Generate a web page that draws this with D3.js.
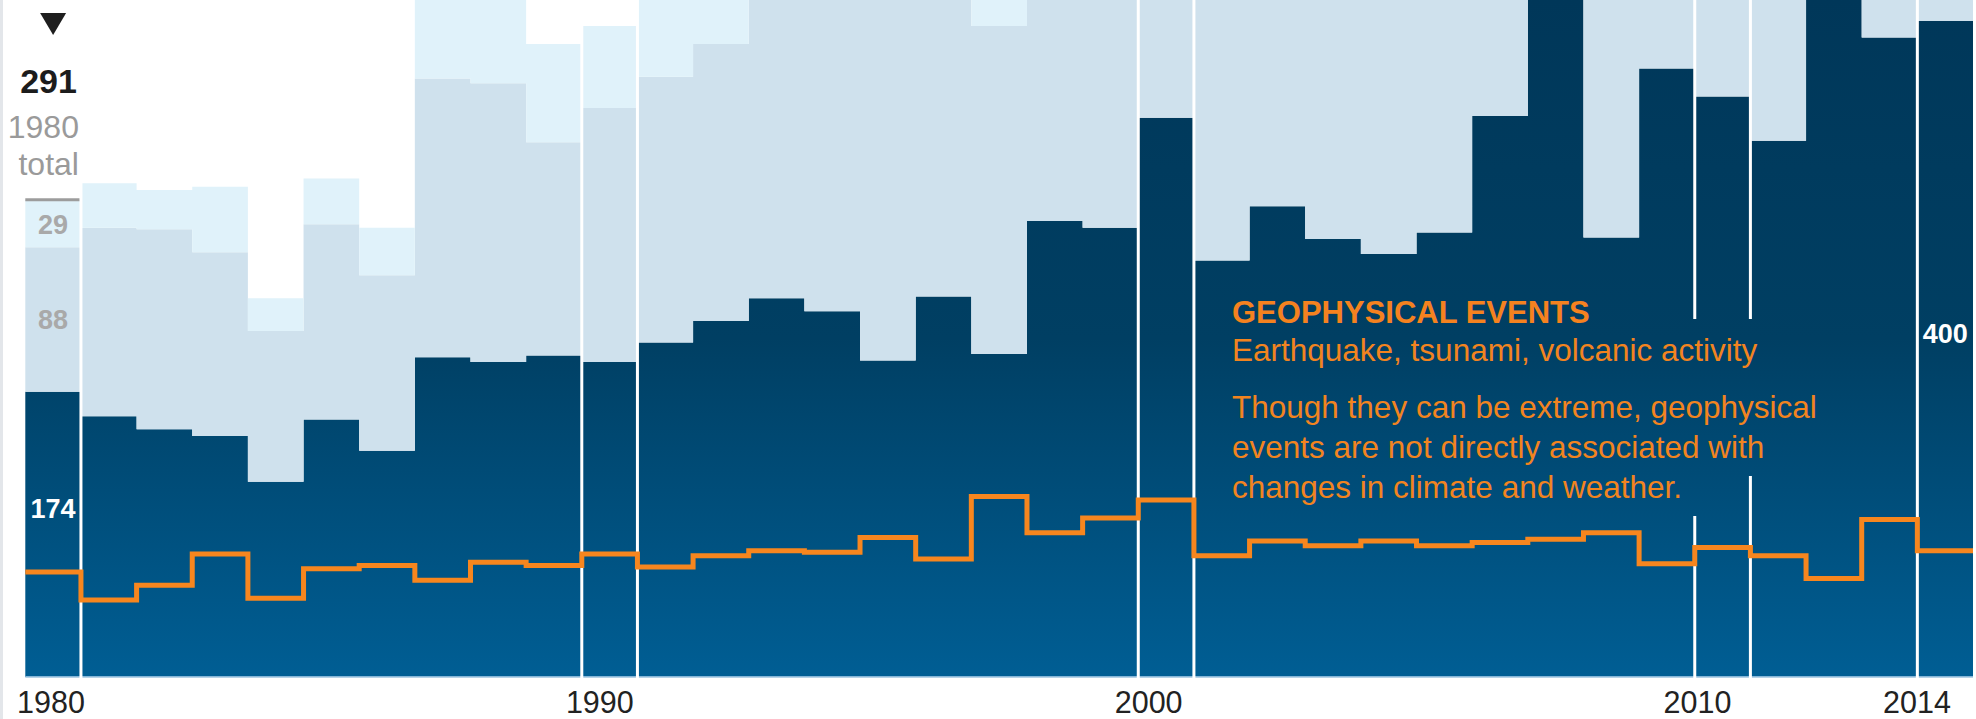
<!DOCTYPE html>
<html>
<head>
<meta charset="utf-8">
<script src="https://cdn.jsdelivr.net/npm/d3@7"></script>
<style>
  html, body { margin: 0; padding: 0; background: #fff; }
  svg { display: block; font-family: "Liberation Sans", Arial, Helvetica, sans-serif; }
</style>
</head>
<body>
<svg id="chart" width="1976" height="719"></svg>
<script>
// Number of loss-relevant natural catastrophes per year, by event family
const years = [1980,1981,1982,1983,1984,1985,1986,1987,1988,1989,
               1990,1991,1992,1993,1994,1995,1996,1997,1998,1999,
               2000,2001,2002,2003,2004,2005,2006,2007,2008,2009,
               2010,2011,2012,2013,2014];
// storms (stack bottom)
const meteorological = [174,159,151,147,119,157,138,195,192,196,
                        192,204,217,231,223,193,232,197,278,274,
                        341,254,287,267,258,271,342,420,268,371,
                        354,327,430,390,400];
// floods, mass movement (stacked on storms)
const hydrological = [88,115,122,112,92,119,107,170,170,130,
                      155,162,169,200,215,235,215,200,250,240,
                      330,270,300,280,285,300,300,350,310,290,
                      380,310,290,380,440];
// heat waves, drought, wildfire (stack top)
const climatological = [29,27,24,40,20,28,29,55,60,60,
                        50,55,50,45,50,45,55,60,75,70,
                        70,65,70,75,60,70,75,70,75,80,
                        90,80,75,85,80];
// earthquake, tsunami, volcanic activity (drawn as a line)
const geophysical = [64,47,56,75,48,66,68,59,70,68,
                     75,67,74,77,76,85,72,110,88,97,
                     108,74,83,80,83,80,82,84,88,69,
                     79,74,60,96,77];
const tickYears = [1980, 1990, 2000, 2010, 2014];
const layerKeys = ["meteorological", "hydrological", "climatological"];
const layerColors = { meteorological: "url(#darkFill)", hydrological: "#cfe1ed", climatological: "#e0f2fa" };

const W = 1976, H = 719;
const baseY = 677;

const rows = years.map((y, i) => ({
  year: y,
  meteorological: meteorological[i],
  hydrological: hydrological[i],
  climatological: climatological[i],
  geophysical: geophysical[i]
}));
// step curves need a closing point at the right edge of the last year
const last = rows[rows.length - 1];
const stepRows = rows.concat([Object.assign({}, last, { year: last.year + 1 })]);

const x = d3.scaleLinear().domain([years[0], years[years.length - 1] + 1]).range([25.3, 1973]);
const y = d3.scaleLinear().domain([0, 400]).range([baseY, baseY - 400 * 1.64]);
const xLabel = d3.scaleLinear().domain([1980, 2014]).range([51, 1917]);

const svg = d3.select("#chart");
const defs = svg.append("defs");
const grad = defs.append("linearGradient")
  .attr("id", "darkFill").attr("gradientUnits", "userSpaceOnUse")
  .attr("x1", 0).attr("y1", 0).attr("x2", 0).attr("y2", baseY);
grad.append("stop").attr("offset", 0).attr("stop-color", "#003759");
grad.append("stop").attr("offset", 0.5).attr("stop-color", "#003f63");
grad.append("stop").attr("offset", 1).attr("stop-color", "#005e94");

// thin grey rule on the left edge
svg.append("rect").attr("x", 0).attr("y", 0).attr("width", 3).attr("height", H).attr("fill", "#e3e6ea");

// stacked step areas
const stack = d3.stack().keys(layerKeys);
const series = stack(stepRows);
const area = d3.area()
  .curve(d3.curveStepAfter)
  .x(d => x(d.data.year))
  .y0(d => y(d[0]))
  .y1(d => y(d[1]));

svg.append("g").selectAll("path")
  .data(series)
  .join("path")
  .attr("d", area)
  .attr("fill", d => layerColors[d.key]);

// light edge along the baseline
svg.append("rect")
  .attr("x", x(years[0])).attr("y", baseY - 1)
  .attr("width", x(last.year + 1) - x(years[0])).attr("height", 1.6)
  .attr("fill", "#86b6d8");

// white separators around the labelled years
const edges = [];
tickYears.forEach(t => {
  [t, t + 1].forEach(e => {
    if (e > years[0] && e < last.year + 1 && !edges.includes(e)) edges.push(e);
  });
});
svg.append("g").selectAll("line")
  .data(edges)
  .join("line")
  .attr("x1", d => x(d)).attr("x2", d => x(d))
  .attr("y1", 0).attr("y2", baseY + 1)
  .attr("stroke", "#fff").attr("stroke-width", 3);

// annotation for the geophysical line
const noteX = 1232;
const noteColor = "#f2841f";
const note = svg.append("g");
const bodyLines = [
  { text: "Earthquake, tsunami, volcanic activity", y: 361 },
  { text: "Though they can be extreme, geophysical", y: 418 },
  { text: "events are not directly associated with", y: 458 },
  { text: "changes in climate and weather.", y: 498 }
];
const maskG = note.append("g");
const bodyText = note.selectAll("text.body")
  .data(bodyLines)
  .join("text")
  .attr("class", "body")
  .attr("x", noteX).attr("y", d => d.y)
  .attr("font-size", 31.5)
  .attr("fill", noteColor)
  .text(d => d.text);
bodyText.each(function(d) {
  const w = this.getComputedTextLength();
  maskG.append("rect")
    .attr("x", noteX - 8).attr("y", d.y - 42)
    .attr("width", w + 26).attr("height", 60)
    .attr("fill", "url(#darkFill)");
});
note.append("text")
  .attr("x", noteX).attr("y", 323)
  .attr("font-size", 31).attr("font-weight", "bold")
  .attr("fill", "#f5821f")
  .text("GEOPHYSICAL EVENTS");

// geophysical step line
const geoLine = d3.line()
  .curve(d3.curveStepAfter)
  .x(d => x(d.year))
  .y(d => y(d.geophysical));
svg.append("path")
  .datum(stepRows)
  .attr("d", geoLine)
  .attr("fill", "none")
  .attr("stroke", "#f7861e")
  .attr("stroke-width", 5)
  .attr("stroke-linejoin", "miter");

// keep annotation text above the separators
note.raise();

// first-year breakdown
const first = rows[0];
const firstTotal = first.meteorological + first.hydrological + first.climatological;
const cx0 = (x(first.year) + x(first.year + 1)) / 2;
const rightEdge0 = x(first.year + 1) - 2;

svg.append("line")
  .attr("x1", x(first.year)).attr("x2", x(first.year + 1) - 1.5)
  .attr("y1", y(firstTotal)).attr("y2", y(firstTotal))
  .attr("stroke", "#9c9c9c").attr("stroke-width", 3);

svg.append("path")
  .attr("d", `M${cx0 - 13},13 L${cx0 + 13},13 L${cx0},35 Z`)
  .attr("fill", "#1e1e1e");

svg.append("text")
  .attr("x", rightEdge0 - 2).attr("y", 93)
  .attr("text-anchor", "end").attr("font-size", 34).attr("font-weight", "bold")
  .attr("fill", "#1c1c1c")
  .text(firstTotal);
svg.append("text")
  .attr("x", rightEdge0).attr("y", 138)
  .attr("text-anchor", "end").attr("font-size", 32).attr("fill", "#9a9a9a")
  .text(first.year);
svg.append("text")
  .attr("x", rightEdge0).attr("y", 175)
  .attr("text-anchor", "end").attr("font-size", 32).attr("fill", "#9a9a9a")
  .text("total");

// layer values for the first year
const firstSeg = series.map(s => ({ key: s.key, lo: s[0][0], hi: s[0][1] }));
svg.append("g").selectAll("text")
  .data(firstSeg)
  .join("text")
  .attr("x", cx0)
  .attr("y", d => (y(d.lo) + y(d.hi)) / 2 + (d.key === "meteorological" ? -16 : 10))
  .attr("text-anchor", "middle")
  .attr("font-size", 27).attr("font-weight", "bold")
  .attr("fill", d => d.key === "meteorological" ? "#fff" : "#a9a9a9")
  .text(d => d.hi - d.lo);

// storms value for the last year
const cxLast = (x(last.year) + x(last.year + 1)) / 2;
svg.append("text")
  .attr("x", cxLast)
  .attr("y", (y(0) + y(last.meteorological)) / 2 - 6)
  .attr("text-anchor", "middle")
  .attr("font-size", 27).attr("font-weight", "bold")
  .attr("fill", "#fff")
  .text(last.meteorological);

// year labels
svg.append("g").selectAll("text")
  .data(tickYears)
  .join("text")
  .attr("x", d => xLabel(d))
  .attr("y", 713)
  .attr("text-anchor", "middle")
  .attr("font-size", 30.5)
  .attr("fill", "#222")
  .text(d => d);
</script>
</body>
</html>
